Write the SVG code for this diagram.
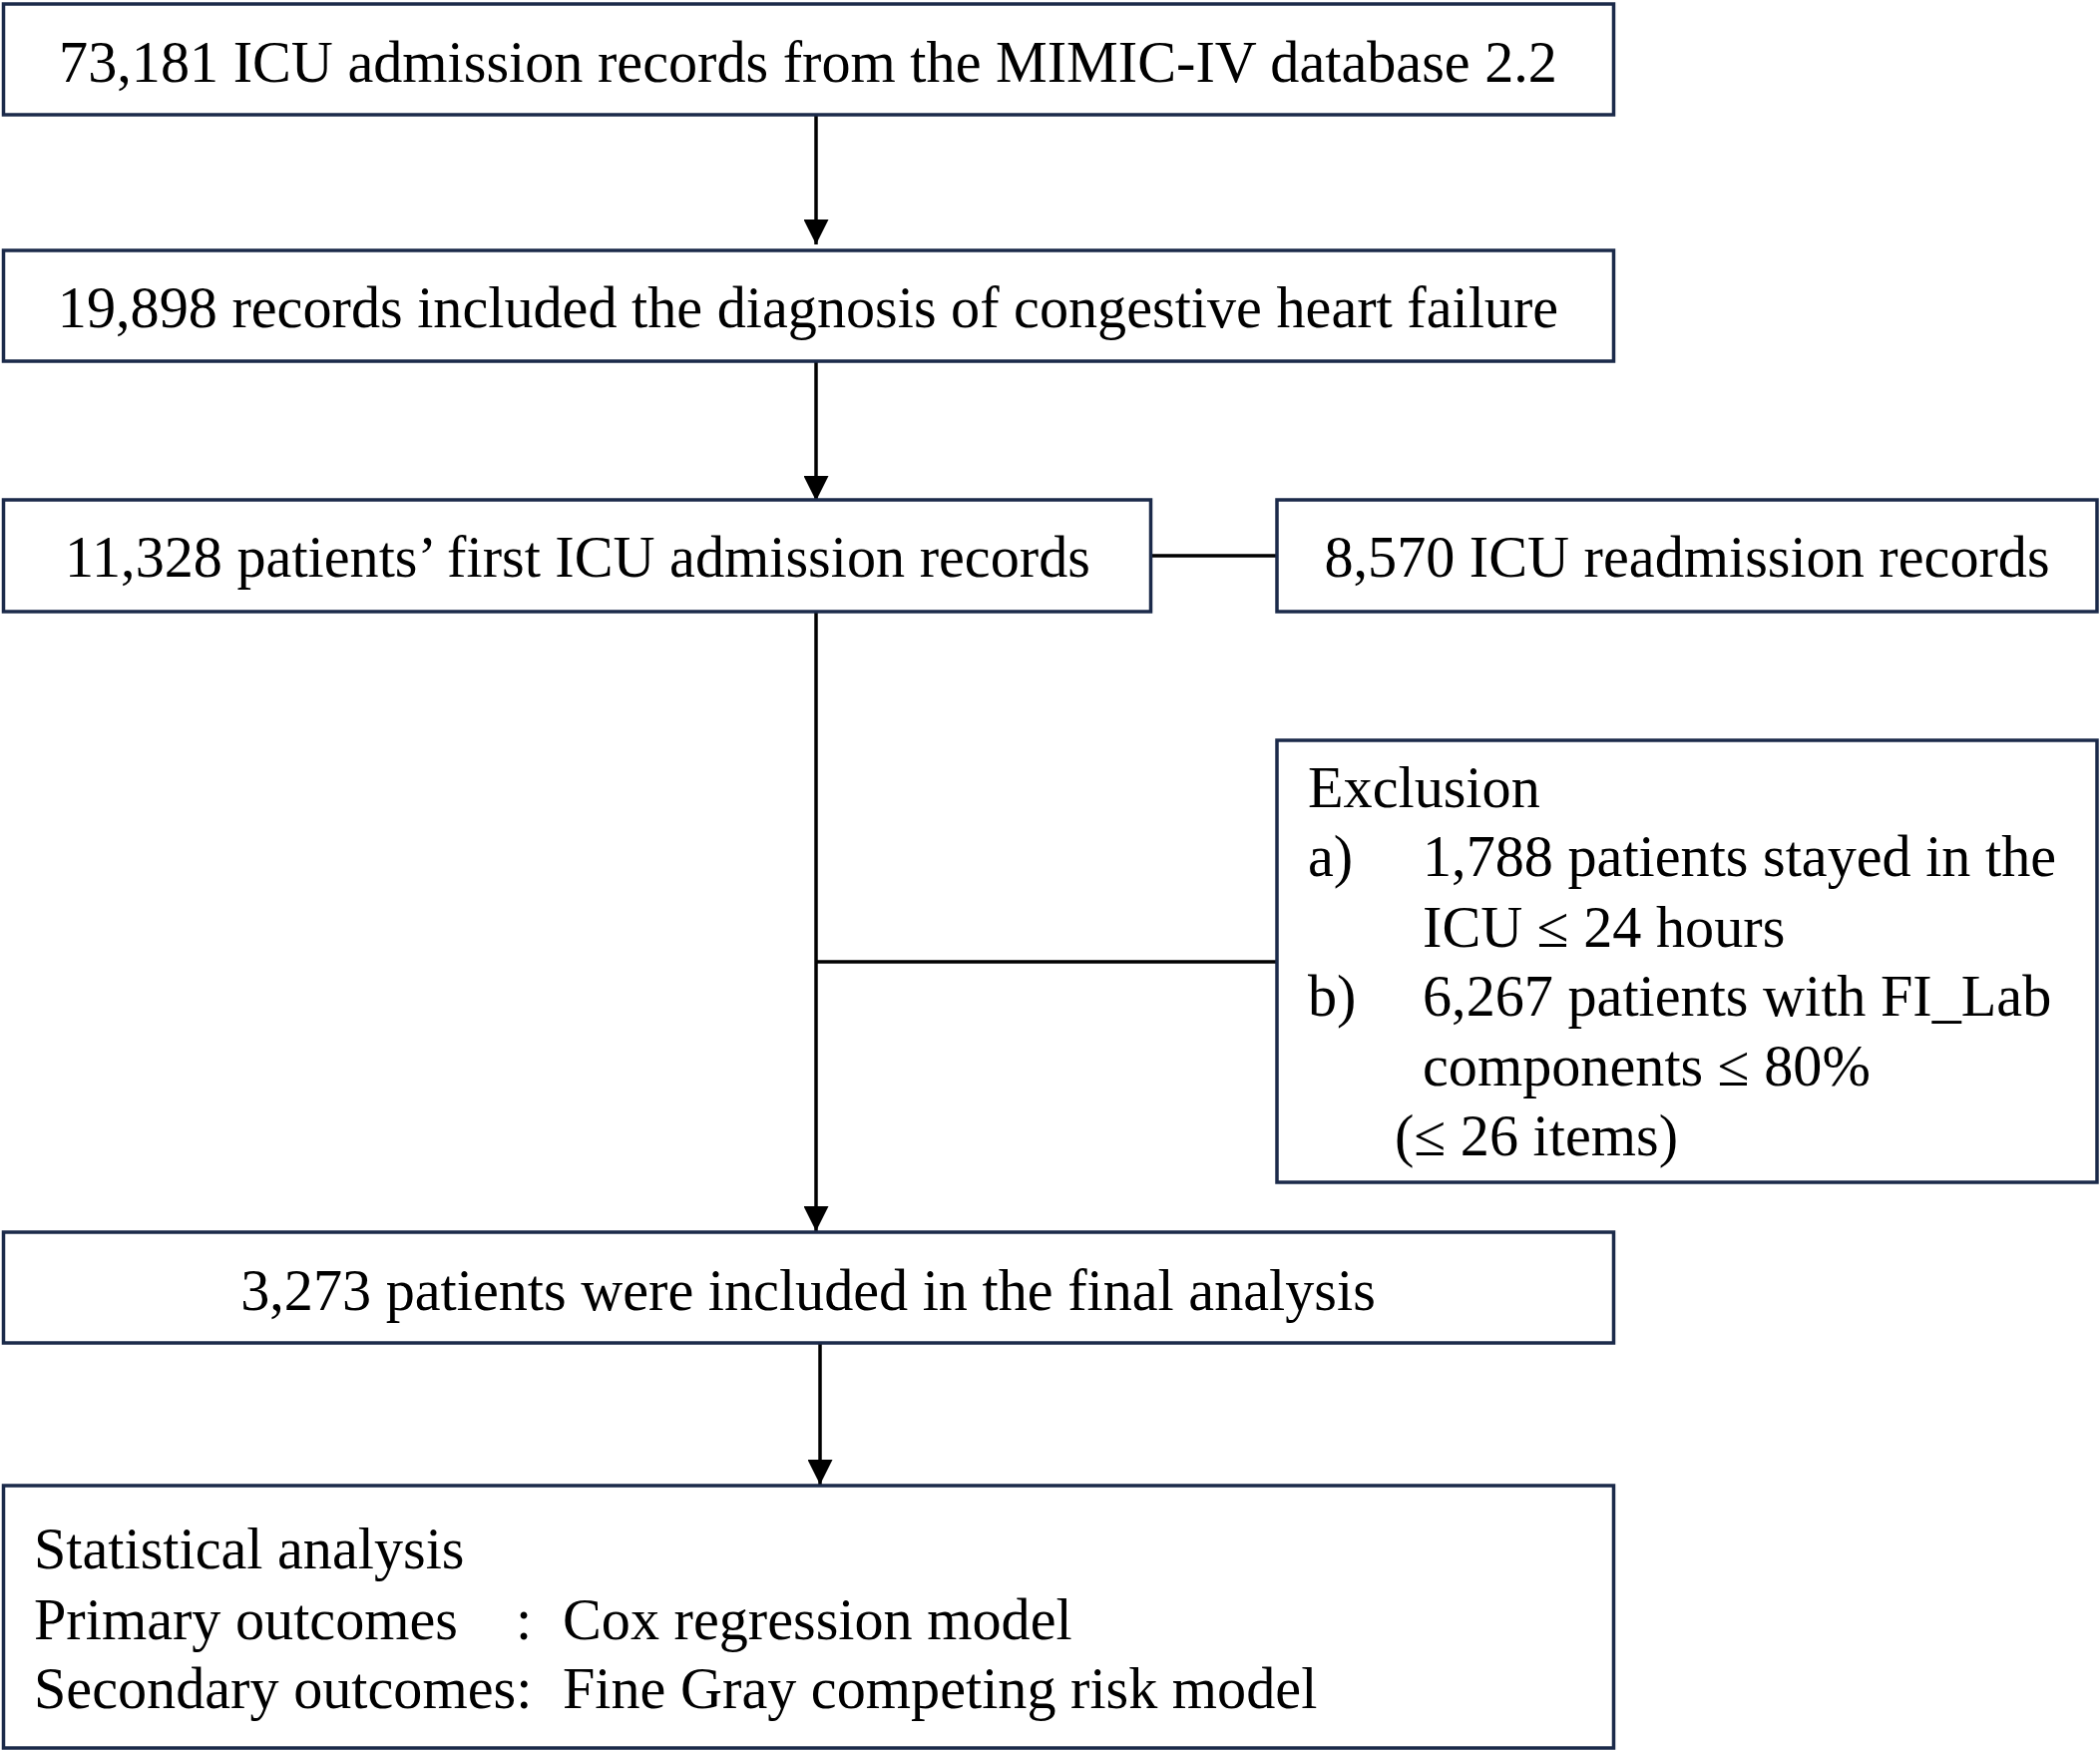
<svg xmlns="http://www.w3.org/2000/svg" width="2105" height="1755" viewBox="0 0 2105 1755">
<style>
.box{fill:#ffffff;stroke:#1b2a4a;stroke-width:3.5}
.t{font-family:"Liberation Serif","Times New Roman",serif;font-size:58.2px;fill:#000000}
.c{text-anchor:middle}
.ln{stroke:#000000;stroke-width:3.5;fill:none}
</style>
<defs>
<marker id="ah" markerUnits="userSpaceOnUse" markerWidth="25" markerHeight="25" refX="25" refY="12.5" orient="auto" viewBox="0 0 25 25">
<path d="M0,0 L25,12.5 L0,25 Z" fill="#000000"/>
</marker>
</defs>
<rect width="2105" height="1755" fill="#ffffff"/>
<g id="connectors">
<line class="ln" x1="818" y1="115" x2="818" y2="245" marker-end="url(#ah)"/>
<line class="ln" x1="818" y1="362" x2="818" y2="502" marker-end="url(#ah)"/>
<line class="ln" x1="1153" y1="557" x2="1280" y2="557"/>
<line class="ln" x1="818" y1="613" x2="818" y2="1234" marker-end="url(#ah)"/>
<line class="ln" x1="818" y1="964" x2="1280" y2="964"/>
<line class="ln" x1="822" y1="1346" x2="822" y2="1488" marker-end="url(#ah)"/>
</g>
<g id="node1">
<rect class="box" x="3.5" y="4" width="1614" height="111"/>
<text class="t c" x="810" y="82">73,181 ICU admission records from the MIMIC-IV database 2.2</text>
</g>
<g id="node2">
<rect class="box" x="3.5" y="251" width="1614" height="111"/>
<text class="t c" x="810" y="328">19,898 records included the diagnosis of congestive heart failure</text>
</g>
<g id="node3">
<rect class="box" x="3.5" y="501" width="1150" height="112"/>
<text class="t c" x="579" y="578">11,328 patients’ first ICU admission records</text>
</g>
<g id="node4">
<rect class="box" x="1280" y="501" width="822" height="112"/>
<text class="t c" x="1691" y="578">8,570 ICU readmission records</text>
</g>
<g id="node5">
<rect class="box" x="1280" y="742" width="822" height="443"/>
<text class="t" x="1311" y="809">Exclusion</text>
<text class="t" x="1311" y="878">a)</text>
<text class="t" x="1426" y="878">1,788 patients stayed in the</text>
<text class="t" x="1426" y="949">ICU ≤ 24 hours</text>
<text class="t" x="1311" y="1018">b)</text>
<text class="t" x="1426" y="1018">6,267 patients with FI_Lab</text>
<text class="t" x="1426" y="1088">components ≤ 80%</text>
<text class="t" x="1398" y="1158">(≤ 26 items)</text>
</g>
<g id="node6">
<rect class="box" x="3.5" y="1235" width="1614" height="111"/>
<text class="t c" x="810" y="1313">3,273 patients were included in the final analysis</text>
</g>
<g id="node7">
<rect class="box" x="3.5" y="1489" width="1614" height="263"/>
<text class="t" x="34" y="1572">Statistical analysis</text>
<text class="t" x="34" y="1643">Primary outcomes</text>
<text class="t" x="517" y="1643">:</text>
<text class="t" x="564" y="1643">Cox regression model</text>
<text class="t" x="34" y="1712">Secondary outcomes:</text>
<text class="t" x="564" y="1712">Fine Gray competing risk model</text>
</g>
</svg>
